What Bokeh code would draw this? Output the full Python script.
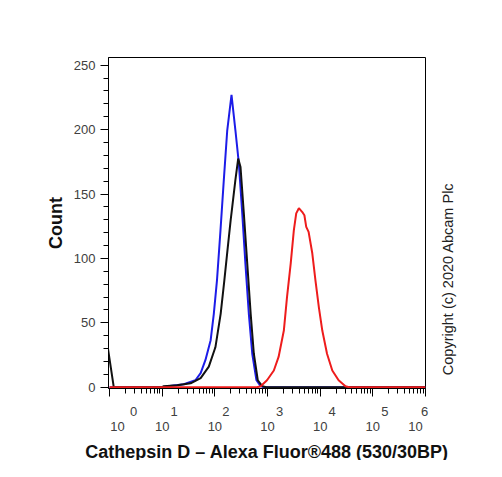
import numpy as np
from bokeh.plotting import figure
from bokeh.layouts import row, column
from bokeh.models import Range1d, FixedTicker, SingleIntervalTicker, CustomJSTickFormatter
from bokeh.core.properties import value
from bokeh.embed import file_html
from bokeh.resources import INLINE

# Histogram traces: fluorescence position (log10 decades) and cell counts
blue_log = [0.0, 1.0, 1.1, 1.41, 1.63, 1.73, 1.82, 1.92, 1.98, 2.04, 2.107, 2.17, 2.235,
            2.316, 2.39, 2.455, 2.52, 2.58, 2.645, 2.71, 2.79, 2.87, 2.95, 6.0]
blue_count = [0, 0, 0.8, 2.3, 5.4, 11, 21, 36.5, 57, 83, 122, 161, 199.5,
              227, 199.5, 174, 135, 96, 57, 26, 5.4, 0.8, 0, 0]

black_log = [-0.03, 0.08, 1.0, 1.03, 1.285, 1.54, 1.73, 1.885, 2.01, 2.11, 2.18, 2.246, 2.30,
             2.33, 2.39, 2.443, 2.487, 2.55, 2.615, 2.68, 2.74, 2.815, 2.9, 2.98, 6.0]
black_count = [30, 0, 0, 0.8, 1.5, 3, 7, 16, 31, 57, 83, 109, 129.7,
               140, 161, 177.5, 171, 135, 96, 57, 26, 5.4, 0.8, 0, 0]

red_log = [0.0, 2.8, 2.87, 2.99, 3.12, 3.21, 3.31, 3.37, 3.44, 3.5, 3.545, 3.595, 3.66,
           3.70, 3.735, 3.78, 3.85, 3.91, 3.975, 4.04, 4.13, 4.23, 4.35, 4.48, 4.55, 6.0]
red_count = [0, 0, 0.8, 5.4, 13, 23.5, 44, 70, 96, 122, 135, 139, 136,
             133.5, 124.5, 120.6, 104, 83, 62, 44, 26, 13, 5.4, 0.8, 0, 0]

x_tick_exponents = [0, 1, 2, 3, 4, 5, 6]
x_tick_base = "10"
x_minor_multipliers = [2, 3, 4, 5, 6, 7, 8, 9]

x_title = "Cathepsin D \u2013 Alexa Fluor\u00ae488 (530/30BP)"
y_title = "Count"
copyright_text = "Copyright (c) 2020 Abcam Plc"

# pixel nudges of the decade labels
base_dx = [8, 0, 0, 0, 0, 0, -10]
expo_dx = [24, 12, 11, 12, 12, 12, -1]

FONT = "Liberation Sans"
DEC0, DEC1 = -0.02, 6.0
Y0, Y1 = -1, 256

# layout (pixels)
BL, BR_MAIN, BT, BB = 108, 11, 57, 10
W_MAIN, H_MAIN = 436, 398
W_SIDE = 40
H_BOTTOM = 62
W_ALL = W_MAIN + W_SIDE

x_major_ticks = [10 ** e for e in x_tick_exponents]
x_minor_ticks = [m * 10 ** e for e in x_tick_exponents[:-1] for m in x_minor_multipliers]

p = figure(width=W_MAIN, height=H_MAIN, x_axis_type="log",
           output_backend="svg", toolbar_location=None,
           x_range=Range1d(10 ** DEC0, 10 ** DEC1), y_range=Range1d(Y0, Y1),
           min_border_left=BL, min_border_right=BR_MAIN,
           min_border_top=BT, min_border_bottom=BB)

p.line(10 ** np.array(blue_log), blue_count, line_color="#1c1ce8", line_width=2)
p.line(10 ** np.array(black_log), black_count, line_color="#111111", line_width=2)
p.line(10 ** np.array(red_log), red_count, line_color="#ee1c1c", line_width=2)

p.xgrid.visible = False
p.ygrid.visible = False
p.outline_line_color = "black"
p.outline_line_width = 1
p.outline_line_alpha = 1
p.background_fill_color = "white"
p.border_fill_color = "white"

xa = p.xaxis[0]
xa.ticker = FixedTicker(ticks=x_major_ticks, minor_ticks=x_minor_ticks)
xa.formatter = CustomJSTickFormatter(code="return ''")
xa.major_label_text_font_size = "0px"
xa.major_label_standoff = 0
xa.major_tick_in = 0
xa.major_tick_out = 8
xa.minor_tick_in = 0
xa.minor_tick_out = 5
xa.axis_line_color = "black"

ya = p.yaxis[0]
ya.ticker = SingleIntervalTicker(interval=50, num_minor_ticks=5)
ya.major_tick_in = 0
ya.major_tick_out = 8
ya.minor_tick_in = 0
ya.minor_tick_out = 5
ya.major_label_standoff = 5
ya.major_label_text_font = FONT
ya.major_label_text_font_size = "13px"
ya.major_label_text_color = "#404040"
ya.axis_label = y_title
ya.axis_label_text_font = FONT
ya.axis_label_text_font_style = "bold"
ya.axis_label_text_font_size = "18px"
ya.axis_label_text_color = "#111111"
ya.axis_label_standoff = 5
ya.axis_line_color = "black"


def blank(fig):
    fig.xgrid.visible = False
    fig.ygrid.visible = False
    fig.outline_line_color = None
    fig.background_fill_color = "white"
    fig.border_fill_color = "white"


# narrow side panel holding the vertical copyright notice
side = figure(width=W_SIDE, height=H_MAIN, output_backend="svg", toolbar_location=None,
              x_range=Range1d(0, W_SIDE), y_range=Range1d(0, H_MAIN),
              x_axis_location=None, y_axis_location=None,
              min_border_left=0, min_border_right=0, min_border_top=0, min_border_bottom=0)
blank(side)
side.text(x=[11], y=[H_MAIN - 382], text=[copyright_text], angle=np.pi / 2,
          text_align="left", text_baseline="middle",
          text_font=value(FONT), text_font_size="14.5px", text_color="#222222")

# bottom strip: decade labels and axis title, on the same decade scale as the main plot
px_per_dec = (W_MAIN - BR_MAIN - BL) / (DEC1 - DEC0)
bx0 = DEC0 - BL / px_per_dec
bx1 = DEC1 + (W_ALL - (W_MAIN - BR_MAIN)) / px_per_dec
bottom = figure(width=W_ALL, height=H_BOTTOM, output_backend="svg", toolbar_location=None,
                x_range=Range1d(bx0, bx1), y_range=Range1d(0, H_BOTTOM),
                x_axis_location=None, y_axis_location=None,
                min_border_left=0, min_border_right=0, min_border_top=0, min_border_bottom=0)
blank(bottom)
for e, bdx, edx in zip(x_tick_exponents, base_dx, expo_dx):
    bottom.text(x=[e], y=[H_BOTTOM - 27.5], text=[x_tick_base], x_offset=bdx,
                text_align="center", text_baseline="middle",
                text_font=value(FONT), text_font_size="13px", text_color="#404040")
    bottom.text(x=[e], y=[H_BOTTOM - 13], text=[str(e)], x_offset=edx,
                text_align="center", text_baseline="middle",
                text_font=value(FONT), text_font_size="13px", text_color="#404040")
bottom.text(x=[(DEC0 + DEC1) / 2], y=[9], text=[x_title],
            text_align="center", text_baseline="middle",
            text_font=value(FONT), text_font_style="bold", text_font_size="18px",
            text_color="#111111")

layout = column(row(p, side, spacing=0), bottom, spacing=0)

open("out.html", "w").write(file_html(layout, INLINE))
